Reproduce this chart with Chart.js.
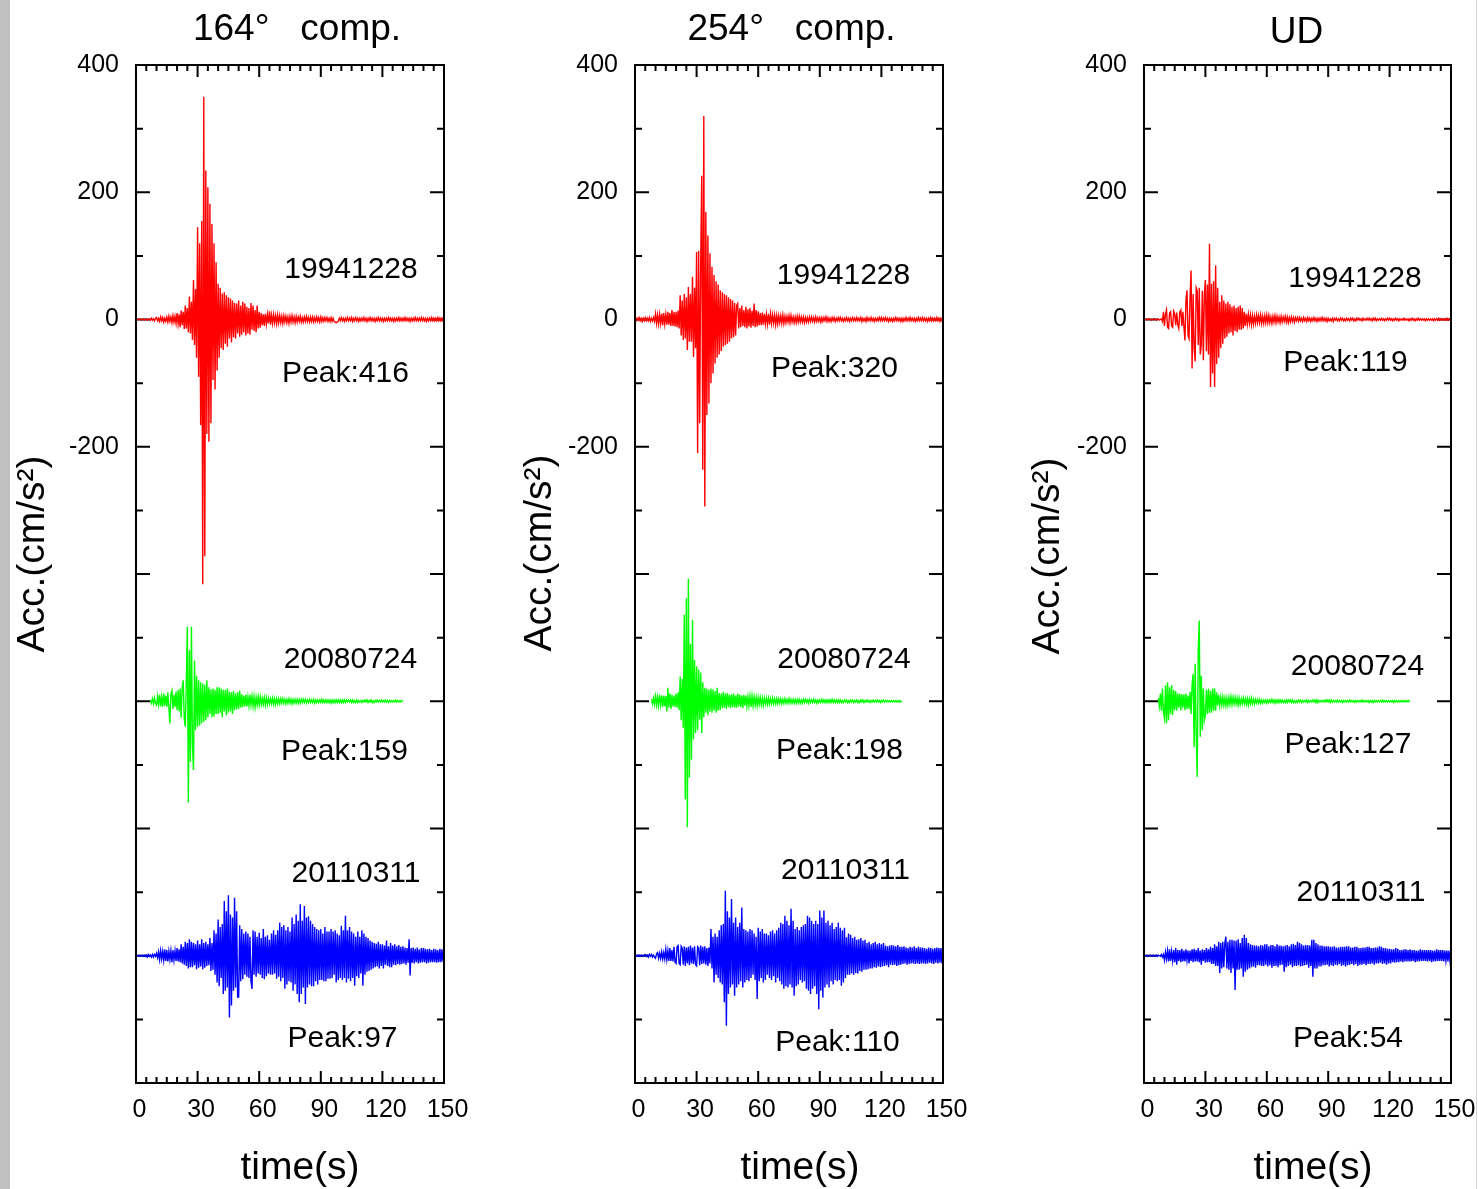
<!DOCTYPE html>
<html>
<head>
<meta charset="utf-8">
<title>Acceleration records</title>
<script src="https://cdn.jsdelivr.net/npm/chart.js@4.4.1/dist/chart.umd.min.js"></script>
<style>
  html, body { margin: 0; padding: 0; background: #fff; }
  #page { position: relative; width: 1478px; height: 1189px; overflow: hidden; background: #fff; }
  #page canvas { position: absolute; left: 0; top: 0; }
  .edge-left { position: absolute; left: 0; top: 0; width: 10px; height: 1189px; background: #c0c0c0; }
  .edge-right { position: absolute; left: 1476px; top: 0; width: 1px; height: 1189px; background: #d4d4d4; }
</style>
</head>
<body>
<div id="page">
  <div class="edge-left"></div>
  <div class="edge-right"></div>
  <canvas id="c164" width="1600" height="1189"></canvas>
  <canvas id="c254" width="1600" height="1189"></canvas>
  <canvas id="cUD" width="1600" height="1189"></canvas>
</div>
<script>
// ---- data -----------------------------------------------------------
// Acceleration in cm/s^2, sampled every 0.5 s from the record's start time.
const events = ['19941228', '20080724', '20110311'];
const components = ['164°   comp.', '254°   comp.', 'UD'];
const traceOffsets = [0, -600, -1000];   // vertical shift of each record
const eventColors = ['#ff0000', '#00ff00', '#0000ff'];
const yTickLabels = [400, 200, 0, -200];
const timeRange = [0, 150];
const accRange = [-1200, 400];
const SAMPLE_STEP = 0.5; // s

const acc164_19941228 = [
  0, 0, 0, 1, 0, -1, 0, 1, -1, 0, 1, -1, 0, 1, -1, 2, -1, 1, -2, 2,
  3, -2, 2, -3, 4, -2, 3, -4, 2, -3, 4, -4, 5, -3, 4, -5, 6, -4, 5, -6,
  10, -7, 8, -12, 14, -9, 12, -15, 22, -14, 18, -20, 36, -22, 28, -32, 62, -40, 48, -60,
  145, -90, 120, -166, 155, -416, 350, -372, 234, -180, 208, -192, 182, -163, 150, -95, 120, -110, 90, -80,
  56, -60, 50, -45, 41, -48, 43, -38, 38, -43, 35, -30, 33, -36, 30, -28, 26, -30, 25, -22,
  30, -27, 22, -24, 28, -20, 25, -25, 20, -22, 18, -24, 26, -16, 22, -18, 15, -20, 22, -14,
  12, -13, 10, -9, 8, -10, 9, -7, 8, -6, 13, -8, 7, -6, 8, -5, 6, -7, 7, -5,
  6, -5, 5, -6, 6, -4, 5, -5, 4, -6, 5, -4, 6, -4, 4, -5, 5, -4, 4, -3,
  5, -4, 3, -4, 4, -3, 5, -3, 3, -4, 4, -3, 4, -4, 3, -3, 4, -3, 3, -4,
  4, -3, 3, -3, 3, -2, 3, -3, 2, -3, 3, -3, 2, -3, -4, -5, -4, -3, 2, -2,
  3, -2, 2, -3, 2, -2, 3, -2, 2, -2, 3, -3, 2, -2, 3, -2, 2, -3, 2, -2,
  2, -2, 3, -2, 2, -3, 2, -2, 3, -2, 2, -2, 2, -3, 2, -2, 3, -2, 2, -2,
  2, -3, 2, -2, 2, -2, 3, -2, 2, -2, 2, -3, 2, -2, 2, -2, 3, -2, 2, -2,
  2, -2, 3, -2, 2, -2, 2, -3, 2, -2, 2, -2, 3, -2, 2, -2, 2, -2, 3, -2,
  2, -2, 2, -3, 2, -2, 2, -2, 3, -2, 2, -2, 2, -2, 3, -2, 2, -2, 2, -2,
  1
];
const acc164_20080724 = [
  2, -3, 4, -4, 5, -3,
  -6, 8, -5, 10, -8, 7, -9, 12, -7, 9, -9, 14, -10, -35, 12, 17, -12, 10, -9, 15,
  -14, 18, -16, 20, -26, 22, 33, -28, -40, 30, 117, -159, 80, -95, 117, -70, -108, 64, -45, 40,
  -40, 33, -38, 30, -35, 28, -32, 26, -30, 33, -25, 22, -20, 19, -25, 20, -24, 18, -20, 22,
  -20, 22, -18, 20, -25, 18, -16, 18, -22, 20, -18, 15, -16, 14, -20, 16, -14, 12, -13, 14,
  -12, 17, -10, 11, -9, 9, -8, 10, -8, 7, -7, 10, -6, 8, -8, 7, -9, 6, -6, 7,
  -6, 7, -5, 5, -5, 6, -6, 5, -5, 5, -4, 4, -4, 5, -5, 4, -5, 4, -4, 4,
  -4, 4, -3, 4, -3, 3, -4, 3, -3, 4, -3, 3, -4, 3, -3, 3, -3, 3, -3, 3,
  -3, 3, -2, 3, -2, 3, -3, 2, -2, 3, -2, 2, -2, 3, -3, 2, -2, 2, -2, 2,
  -2, 3, -2, 2, -2, 2, -2, 2, -2, 2, -3, 2, -2, 2, -2, 2, -2, 2, -2, 2,
  -2, 2, -2, 2, -2, 2, -1, 2, -1, 2, -2, 2, -2, 1, -2, 2, -2, 1, -1, 1,
  -2, 1, -1, 2, -1, 2, -2, 1, -1, 2, -2, 1, -2, 1, -1, 2, -1, 1, -1, 2,
  -1, 1, -1, 2, -1, 1, -2, 1, -1, 1, -1, 1, -1, 2, -1, 1, -1, 1, -1, 1,
  0
];
const acc164_20110311 = [
  0, 0, 0, 1, -1, 0, 1, -1, 1, -1, 1, -2, 2, -1, 1, -2, 2, -2, 2, -1,
  4, -3, 6, -6, 8, -5, 7, -7, 10, -8, 9, -9, 7, -6, 8, -10, 9, -7, 8, -8,
  12, -9, 10, -10, 18, -12, 14, -14, 22, -16, 20, -20, 26, -18, 22, -18, 20, -15, 18, -21,
  24, -19, 18, -17, 26, -21, 20, -19, 22, -16, 18, -15, 28, -24, 20, -22, 40, -30, 35, -42,
  57, -48, 45, -35, 50, -60, 86, -55, 70, -50, 95, -97, 65, -78, 60, -55, 91, -50, 70, -65,
  -65, 48, -40, 42, -37, 35, -30, 38, -33, 35, -35, 30, -40, -52, 40, -30, 38, -33, 30, -28,
  36, -30, 28, -35, 42, -37, 30, -32, 32, -28, 25, -30, 35, -30, 40, -28, 33, -36, 40, -33,
  52, -40, 45, -35, 48, -52, 40, -45, 45, -40, 38, -42, 60, -55, 50, -45, 65, -60, 55, -73,
  81, -60, 55, -50, 78, -76, 60, -50, 62, -45, 55, -48, 50, -48, 45, -40, 42, -45, 40, -38,
  42, -38, 35, -40, 45, -40, 38, -36, 38, -36, 42, -35, 38, -30, 40, -42, 35, -38, 32, -35,
  47, -38, 40, -35, 63, -42, 40, -36, 45, -40, 38, -35, 35, -47, 30, -32, 38, -35, 30, -28,
  40, -47, 35, -30, 30, -25, 28, -24, 24, -22, 22, -20, 20, -18, 19, -17, 22, -20, 18, -16,
  18, -20, 16, -14, 24, -16, 15, -18, 20, -18, 16, -14, 18, -15, 15, -13, 17, -14, 14, -13,
  15, -12, 13, -14, 12, -11, 26, -31, 12, -11, 13, -12, 11, -10, 13, -12, 10, -11, 12, -10,
  12, -10, 11, -12, 10, -11, 11, -10, 9, -10, 11, -10, 10, -11, 9, -10, 11, -10, 10, -9,
  9
];

const acc254_19941228 = [
  1, -2, 2, -1, 3, -2, 2, -3, 2, -2, 3, -2, 2, -2, 3, -3, 2, -2, 3, -3,
  9, -6, 7, -7, 8, -6, 9, -9, 10, -7, 8, -8, 12, -8, 10, -10, 15, -10, 12, -11,
  12, -12, 14, -14, 38, -25, 30, -32, 40, -30, 35, -48, 51, -35, 40, -35, 67, -59, 50, -45,
  106, -210, 108, -163, 90, 226, -236, 320, -294, 169, -150, 132, -132, 104, -100, 83, -85, 70, -69, 60,
  -60, 55, -55, 46, -50, 43, -43, 40, -40, 38, -38, 35, -35, 32, -30, 30, -28, 26, -25, 22,
  25, -14, 18, -12, 22, -10, 15, -12, 20, -14, 16, -11, 18, -13, 14, -10, 25, -12, 15, -11,
  13, -9, 10, -9, 11, -8, 9, -7, 8, -7, 9, -8, 9, -6, 7, -6, 7, -8, 6, -7,
  6, -5, 6, -6, 7, -6, 5, -5, 5, -4, 6, -5, 6, -4, 4, -5, 4, -5, 5, -4,
  5, -4, 4, -4, 4, -5, 3, -4, 3, -4, 4, -3, 4, -3, 3, -4, 4, -3, 3, -3,
  3, -4, 3, -3, 3, -2, 4, -3, 3, -3, 2, -3, 3, -2, 3, -3, 2, -2, 3, -2,
  3, -2, 2, -3, 2, -2, 3, -2, 2, -3, 2, -2, 3, -2, 2, -2, 3, -2, 2, -2,
  3, -3, 2, -2, 2, -3, 3, -2, 2, -2, 3, -2, 2, -3, 2, -2, 2, -2, 3, -2,
  3, -2, 2, -2, 3, -2, 2, -3, 2, -2, 2, -3, 2, -2, 3, -2, 2, -2, 2, -3,
  2, -3, 2, -2, 3, -2, 2, -2, 3, -2, 2, -2, 2, -3, 2, -2, 3, -2, 2, -2,
  3, -2, 2, -2, 2, -3, 2, -2, 3, -2, 2, -2, 2, -2, 3, -2, 2, -3, 2, -2,
  1
];
const acc254_20080724 = [
  3, -4, 5, -5,
  8, -6, 7, -7, 10, -6, 9, -9, 9, -8, 8, -16, 21, -10, 12, -12, 10, -8, 9, -9,
  12, -10, 14, -14, 39, -30, 35, -42, 136, -154, 162, -198, 193, -120, 90, -92, 128, -60, 65, -50,
  55, -45, 50, -29, 45, -50, 30, -25, 21, -18, 20, -22, 18, -16, 20, -18, 19, -15, 16, -18,
  21, -15, 13, -14, 12, -11, 15, -10, 12, -12, 13, -9, 10, -11, 11, -9, 12, -10, 9, -10,
  12, -8, 10, -9, 9, -11, 10, -7, 9, -8, 7, -7, 8, -9, 8, -7, 7, -6, 6, -7,
  6, -5, 6, -6, 5, -6, 5, -4, 5, -5, 5, -5, 4, -4, 5, -4, 4, -4, 4, -4,
  4, -3, 4, -4, 3, -3, 4, -3, 3, -3, 4, -3, 3, -3, 3, -3, 3, -3, 3, -3,
  3, -3, 2, -3, 3, -2, 3, -2, 2, -3, 3, -2, 2, -2, 3, -2, 2, -3, 2, -2,
  2, -2, 3, -2, 2, -2, 2, -2, 2, -2, 2, -2, 3, -2, 2, -2, 2, -2, 2, -2,
  2, -2, 1, -2, 2, -1, 2, -2, 1, -2, 2, -1, 2, -2, 1, -1, 2, -2, 1, -2,
  2, -1, 2, -2, 1, -1, 2, -1, 1, -2, 1, -1, 2, -1, 1, -1, 2, -1, 1, -2,
  1, -1, 2, -1, 1, -1, 1, -1, 1, -1, 1, -1, 1, -1, 1, -1, 1, -1, 1, -1,
  0
];
const acc254_20110311 = [
  0, 0, 1, -1, 1, -1, 1, 0, -1, 1, 2, -1, 1, -2, 2, -1, 2, -2, 1, -2,
  -4, 3, 5, -4, 4, -4, 6, -5, 5, -5, 10, -6, 8, -8, 12, -8, 9, -9, 14, -10,
  -12, 14, 16, -12, -14, 15, 12, -14, 15, -16, 13, -12, 14, -15, 16, -12, 13, -13, 15, -14,
  -16, 14, 12, -15, 16, -13, 14, -12, 15, -14, 12, -16, 13, -12, 42, -20, 30, -42, 35, -30,
  30, -35, 40, -42, 48, -45, 50, -73, 102, -110, 70, -60, 60, -50, 89, -45, 52, -63, 60, -50,
  45, -45, 52, -40, 76, -50, 42, -42, 40, -38, 38, -40, 42, -35, 40, -30, 35, -38, 30, -68,
  44, -40, 38, -35, 42, -42, 35, -38, 35, -30, 32, -35, 38, -38, 40, -32, 35, -42, 40, -35,
  44, -40, 52, -45, 50, -52, 63, -48, 55, -50, 48, -45, 74, -50, 55, -63, 42, -48, 45, -45,
  40, -38, 45, -42, 48, -40, 50, -52, 63, -55, 60, -60, 55, -52, 50, -48, 55, -60, 50, -84,
  71, -55, 60, -66, 71, -50, 52, -45, 55, -50, 48, -40, 52, -45, 42, -38, 45, -40, 52, -38,
  44, -47, 40, -42, 44, -35, 29, -30, 35, -30, 33, -28, 28, -30, 30, -27, 25, -28, 26, -24,
  28, -25, 24, -22, 25, -22, 20, -21, 22, -20, 18, -20, 20, -18, 22, -19, 18, -17, 20, -18,
  18, -17, 20, -16, 16, -15, 15, -18, 16, -14, 17, -15, 16, -14, 15, -16, 17, -15, 14, -14,
  14, -13, 15, -12, 13, -14, 12, -13, 14, -12, 13, -12, 15, -13, 12, -12, 14, -13, 13, -12,
  13, -12, 12, -13, 11, -12, 13, -11, 12, -12, 11, -13, 12, -11, 13, -12, 12, -11, 12, -12,
  10
];

const accUD_19941228 = [
  0, 0, 0, 0, 0, 1, 0, -1, 0, 0, 1, 0, -1, 0, 1, -1, 0, 1, -3, 12,
  -10, 8, 15, -12, -14, 10, 12, -10, -12, 13, 9, -9, 11, -8, -14, 12, 15, -10, 12, -11,
  -33, 30, 46, -25, -30, 35, 77, -77, 40, -45, -66, 50, 45, -40, 50, -55, -40, 45, -64, 40,
  62, -50, 55, -55, 119, -106, 56, -85, 60, -106, 85, -70, 50, -60, 28, -45, 38, -38, 30, -30,
  25, -27, 28, -22, 24, -20, 20, -25, 22, -18, 18, -20, 20, -16, 22, -16, 18, -14, 12, -10,
  9, -7, 8, -6, 7, -8, 6, -7, 5, -6, 7, -5, 6, -5, 7, -6, 5, -6, 6, -5,
  7, -5, 6, -5, 4, -6, 5, -4, 6, -5, 5, -4, 4, -5, 5, -4, 4, -3, 5, -4,
  4, -5, 3, -4, 4, -3, 3, -4, 3, -2, 3, -3, 3, -2, 2, -3, 3, -2, 2, -3,
  3, -2, 2, -3, 2, -2, 3, -2, 2, -3, 2, -2, 2, -2, 3, -2, 2, -2, 2, -3,
  2, -2, 1, -2, 2, -3, 2, -1, 2, -2, 1, -2, 2, -1, 2, -2, 1, -2, 2, -1,
  1, -2, 2, -1, 2, -2, 1, -2, 2, -1, 2, -1, 1, -2, 2, -1, 1, -1, 2, -1,
  2, -1, 1, -2, 2, -1, 2, -2, 1, -1, 1, -1, 2, -1, 1, -2, 1, -1, 2, -1,
  2, -1, 1, -2, 1, -1, 2, -1, 1, -2, 1, -1, 1, -1, 2, -1, 1, -1, 1, -2,
  1, -1, 2, -1, 1, -2, 1, -1, 2, -1, 1, -1, 1, -1, 1, -2, 1, -1, 1, -1,
  1, -1, 1, -2, 1, -1, 1, -1, 2, -1, 1, -1, 1, -1, 1, -1, 2, -1, 1, -1,
  0
];
const accUD_20080724 = [
  5, -8, 12, -15, 20, -18,
  -27, 25, -35, 30, -30, 22, -20, 25, -22, 18, -14, 16, -15, 12, -10, 12, -14, 11, -10, 11,
  -14, 12, -12, 9, -12, 15, -20, 25, 43, -72, 59, -50, -119, 80, 127, -56, 40, -45, 20, -30,
  -22, 18, -20, 20, -18, 16, -18, 20, -15, 20, -15, 14, -7, 10, -7, 6, -6, 7, -6, 5,
  -7, 5, -6, 6, -5, 7, -5, 6, -4, 6, -4, 5, -6, 5, -5, 4, -4, 5, -4, 4,
  -5, 4, -6, 4, -4, 5, -4, 3, -4, 3, -3, 3, -3, 3, -3, 2, -3, 2, -2, 2,
  -3, 2, -2, 2, -2, 3, -2, 2, -3, 2, -2, 2, -2, 2, -2, 2, -2, 1, -2, 2,
  -2, 2, -1, 2, -2, 2, -2, 1, -2, 1, -2, 2, -1, 2, -2, 1, -1, 1, -1, 2,
  -2, 1, -1, 1, -1, 2, -1, 2, -2, 2, -2, 1, -1, 1, -1, 1, -1, 2, -1, 2,
  -1, 2, -2, 2, -1, 1, -1, 1, -1, 2, -1, 1, -1, 1, -2, 1, -1, 1, -1, 1,
  -1, 2, -1, 1, -1, 1, -2, 1, -1, 1, -1, 1, -1, 2, -1, 1, -1, 1, -1, 1,
  -2, 1, -1, 1, -2, 1, -1, 1, -1, 1, -1, 1, -1, 2, -1, 1, -1, 1, -1, 1,
  -1, 1, -1, 1, -2, 1, -1, 1, -1, 1, -1, 1, -1, 1, -1, 1, -1, 1, -1, 1,
  0
];
const accUD_20110311 = [
  0, 0, 0, 1, -1, 0, 1, 0, -1, 1, 0, -1, 1, -1, 1, 0, -1, 2, -2, 2,
  -7, 6, -5, 8, -9, 10, -8, 7, -8, 9, -10, 12, -14, 9, -8, 9, -10, 11, -9, 8,
  -9, 10, -7, 8, -12, 8, -8, 10, -10, 11, -9, 9, -9, 12, -10, 8, -14, 10, -8, 9,
  -11, 12, -10, 10, -10, 14, -13, 12, -13, 18, -16, 15, -16, 22, -27, 20, -20, 22, -18, 20,
  30, -20, 22, -22, 25, -27, 25, -20, 24, -54, 24, -22, 26, -22, 20, -20, 28, -33, 33, -25,
  28, -22, 20, -20, 18, -18, 17, -17, 16, -19, 16, -15, 15, -15, 17, -16, 16, -16, 18, -14,
  18, -17, 15, -15, 17, -19, 17, -16, 15, -16, 18, -18, 16, -15, 16, -14, 15, -25, 16, -18,
  17, -16, 15, -14, 18, -18, 19, -16, 17, -16, 22, -15, 20, -17, 18, -16, 16, -15, 17, -14,
  17, -19, 16, -16, 25, -33, 25, -20, 20, -20, 18, -17, 16, -17, 16, -15, 15, -15, 15, -14,
  15, -17, 14, -15, 14, -16, 15, -14, 13, -15, 13, -13, 14, -16, 14, -15, 14, -17, 15, -15,
  15, -14, 13, -13, 13, -15, 14, -13, 14, -16, 12, -14, 12, -14, 13, -13, 13, -15, 14, -13,
  14, -13, 12, -12, 12, -14, 13, -12, 13, -12, 15, -11, 14, -13, 12, -12, 12, -14, 11, -12,
  11, -12, 10, -10, 10, -11, 12, -10, 11, -10, 9, -9, 9, -10, 10, -9, 10, -9, 9, -9,
  10, -9, 9, -8, 9, -10, 8, -9, 8, -9, 10, -8, 9, -8, 9, -8, 9, -9, 9, -8,
  9, -10, 8, -9, 8, -9, 10, -8, 9, -8, 9, -8, 9, -9, 8, -8, 8, -9, 8, -8,
  7
];

// ---- layout ---------------------------------------------------------
const CANVAS_W = 1600, CANVAS_H = 1189;
const PLOT_TOP = 65, PLOT_BOTTOM = 1083;
const AXIS_W = 110, AXIS_H = 60;
const FONT = "'Liberation Sans', Arial, Helvetica, sans-serif";

const panels = [
  {
    id: 'c164', title: components[0], left: 136, right: 444,
    titleX: 297, titleY: 40, yTitleX: 44, yTitleY: 554, xTitleX: 300,
    series: [acc164_19941228, acc164_20080724, acc164_20110311], starts: [0, 7, 0],
    notes: [[351, 278, 345.5, 382], [350.5, 668, 344.5, 760], [356, 882, 342.5, 1047]]
  },
  {
    id: 'c254', title: components[1], left: 635, right: 943,
    titleX: 791.5, titleY: 40, yTitleX: 551, yTitleY: 553, xTitleX: 800,
    series: [acc254_19941228, acc254_20080724, acc254_20110311], starts: [0, 8, 0],
    notes: [[843.5, 284, 834.5, 377], [844, 668, 839.5, 759], [845.5, 879, 837.5, 1051]]
  },
  {
    id: 'cUD', title: components[2], left: 1144, right: 1451,
    titleX: 1296.5, titleY: 43, yTitleX: 1059, yTitleY: 556, xTitleX: 1313,
    series: [accUD_19941228, accUD_20080724, accUD_20110311], starts: [0, 7, 0],
    notes: [[1355, 287, 1345.5, 371], [1357.5, 675, 1348, 753], [1361, 901, 1348, 1047]]
  }
];

// inward ticks on all four sides, box frame drawn over the traces
const panelFrame = {
  id: 'panelFrame',
  beforeDatasetsDraw(chart) {
    const { ctx, chartArea: a, scales: { x, y } } = chart;
    ctx.save();
    ctx.strokeStyle = '#000';
    ctx.lineWidth = 2;
    ctx.beginPath();
    for (let t = timeRange[0]; t <= timeRange[1]; t += 5) {
      const px = x.getPixelForValue(t);
      const len = t % 30 === 0 ? 12 : 6;
      ctx.moveTo(px, a.top);
      ctx.lineTo(px, a.top + len);
      ctx.moveTo(px, a.bottom);
      ctx.lineTo(px, a.bottom - len);
    }
    for (let v = accRange[0]; v <= accRange[1]; v += 100) {
      const py = y.getPixelForValue(v);
      const len = v % 200 === 0 ? 14 : 7;
      ctx.moveTo(a.left, py);
      ctx.lineTo(a.left + len, py);
      ctx.moveTo(a.right, py);
      ctx.lineTo(a.right - len, py);
    }
    ctx.stroke();
    ctx.restore();
  },
  afterDatasetsDraw(chart) {
    const { ctx, chartArea: a } = chart;
    ctx.save();
    ctx.strokeStyle = '#000';
    ctx.lineWidth = 2;
    ctx.strokeRect(a.left, a.top, a.right - a.left, a.bottom - a.top);
    ctx.restore();
  }
};

// titles, axis titles and the date / peak notes
const panelText = {
  id: 'panelText',
  afterDraw(chart, args, opts) {
    const p = opts.panel;
    const ctx = chart.ctx;
    ctx.save();
    ctx.fillStyle = '#000';
    ctx.textBaseline = 'alphabetic';
    ctx.textAlign = 'center';

    ctx.font = `37px ${FONT}`;
    ctx.fillText(p.title, p.titleX, p.titleY);

    ctx.font = `39px ${FONT}`;
    ctx.fillText('time(s)', p.xTitleX, 1179);

    ctx.save();
    ctx.translate(p.yTitleX, p.yTitleY);
    ctx.rotate(-Math.PI / 2);
    ctx.fillText('Acc.(cm/s²)', 0, 0);
    ctx.restore();

    ctx.font = `30px ${FONT}`;
    p.series.forEach((vals, i) => {
      const [dx, dy, px, py] = p.notes[i];
      const peak = Math.max(...vals.map(Math.abs));
      ctx.fillText(events[i], dx, dy);
      ctx.fillText('Peak:' + peak, px, py);
    });
    ctx.restore();
  }
};

panels.forEach((p) => {
  const datasets = p.series.map((vals, i) => ({
    label: events[i],
    data: vals.map((v, k) => ({ x: p.starts[i] + k * SAMPLE_STEP, y: v + traceOffsets[i] })),
    borderColor: eventColors[i],
    borderWidth: 1.4,
    pointRadius: 0,
    tension: 0,
    fill: false
  }));

  new Chart(document.getElementById(p.id), {
    type: 'line',
    data: { datasets },
    options: {
      responsive: false,
      animation: false,
      devicePixelRatio: 1,
      layout: {
        padding: {
          left: p.left - AXIS_W,
          right: CANVAS_W - p.right,
          top: PLOT_TOP,
          bottom: CANVAS_H - PLOT_BOTTOM - AXIS_H
        }
      },
      plugins: {
        legend: { display: false },
        tooltip: { enabled: false },
        panelText: { panel: p }
      },
      scales: {
        x: {
          type: 'linear',
          min: timeRange[0],
          max: timeRange[1],
          afterFit: (s) => { s.height = AXIS_H; },
          grid: { display: false, drawTicks: false },
          border: { display: false },
          ticks: {
            stepSize: 30,
            padding: 12,
            labelOffset: 3.5,
            autoSkip: false,
            maxRotation: 0,
            color: '#000',
            font: { family: FONT, size: 25 }
          }
        },
        y: {
          type: 'linear',
          min: accRange[0],
          max: accRange[1],
          afterFit: (s) => { s.width = AXIS_W; },
          grid: { display: false, drawTicks: false },
          border: { display: false },
          ticks: {
            stepSize: 200,
            padding: 17,
            autoSkip: false,
            color: '#000',
            font: { family: FONT, size: 25 },
            callback: (v) => (yTickLabels.includes(v) ? String(v) : '')
          }
        }
      }
    },
    plugins: [panelFrame, panelText]
  });
});
</script>
</body>
</html>
